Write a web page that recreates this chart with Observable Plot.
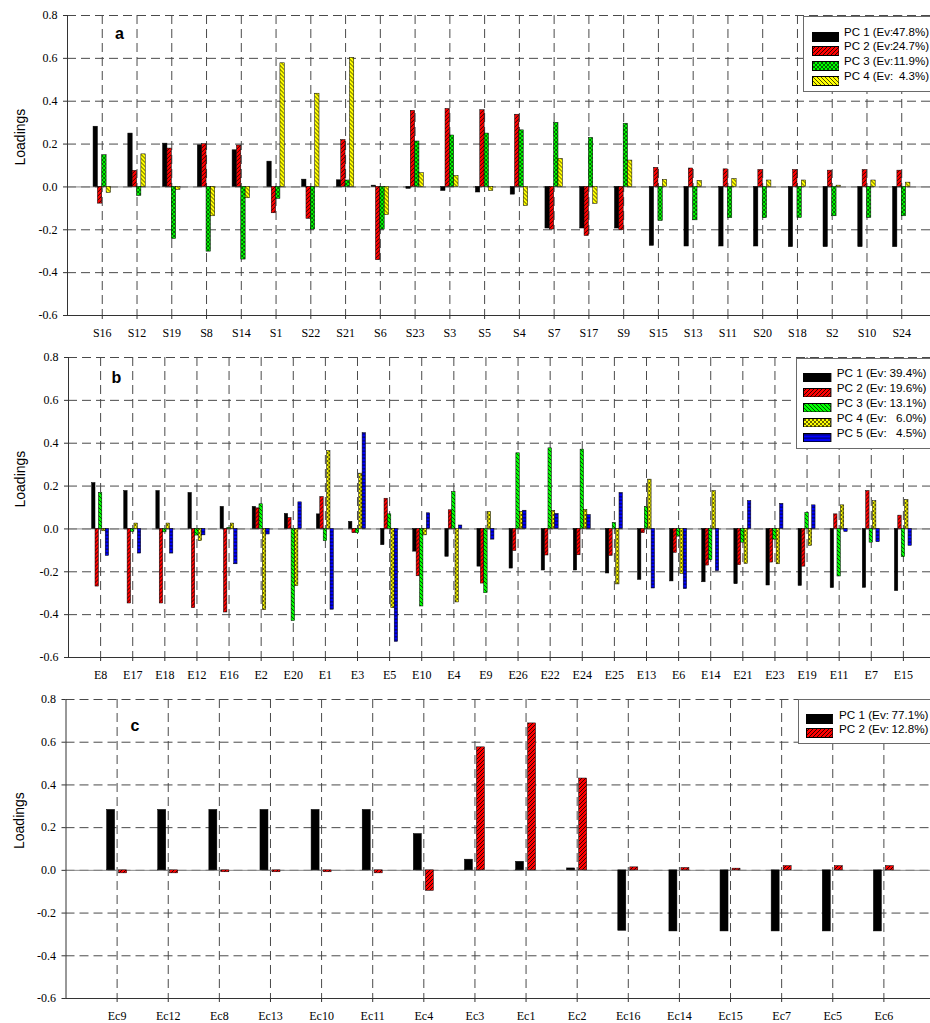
<!DOCTYPE html>
<html>
<head>
<meta charset="utf-8">
<script src="https://cdn.jsdelivr.net/npm/d3@7"></script>
<script src="https://cdn.jsdelivr.net/npm/@observablehq/plot@0.6"></script>
<style>
  html, body { margin: 0; padding: 0; background: #fff; }
  #root { position: relative; width: 930px; height: 1023px; overflow: hidden; }
  .panel { position: relative; width: 930px; height: 341px; overflow: hidden; }
  .panel svg.plot { display: block; }
  .lgbox { position: absolute; background: #fff; border: 1px solid #6a6a6a; box-sizing: border-box; }
  .lgtxt { position: absolute; font-family: "Liberation Sans", Arial, sans-serif; font-size: 11.7px; line-height: 13px; color: #000; white-space: pre; }
  .lgsw { position: absolute; }
</style>
</head>
<body>
<svg width="0" height="0" style="position:absolute">
  <defs>
    <pattern id="pRed" patternUnits="userSpaceOnUse" width="4" height="4">
      <rect width="4" height="4" fill="#ff0000"/>
      <path d="M-1,1 L1,-1 M0,4 L4,0 M3,5 L5,3" stroke="#000" stroke-width="0.8"/>
    </pattern>
    <pattern id="pGreenX" patternUnits="userSpaceOnUse" width="4" height="4">
      <rect width="4" height="4" fill="#00ff00"/>
      <path d="M-1,1 L1,-1 M0,4 L4,0 M3,5 L5,3 M-1,3 L1,5 M0,0 L4,4 M3,-1 L5,1" stroke="#000" stroke-width="0.6"/>
    </pattern>
    <pattern id="pYellowB" patternUnits="userSpaceOnUse" width="4" height="4">
      <rect width="4" height="4" fill="#ffff00"/>
      <path d="M-1,3 L1,5 M0,0 L4,4 M3,-1 L5,1" stroke="#000" stroke-width="0.7"/>
    </pattern>
    <pattern id="pGreenB" patternUnits="userSpaceOnUse" width="4" height="4">
      <rect width="4" height="4" fill="#00ff00"/>
      <path d="M-1,3 L1,5 M0,0 L4,4 M3,-1 L5,1" stroke="#000" stroke-width="0.7"/>
    </pattern>
    <pattern id="pYellowX" patternUnits="userSpaceOnUse" width="4" height="4">
      <rect width="4" height="4" fill="#ffff00"/>
      <path d="M-1,1 L1,-1 M0,4 L4,0 M3,5 L5,3 M-1,3 L1,5 M0,0 L4,4 M3,-1 L5,1" stroke="#000" stroke-width="0.6"/>
    </pattern>
    <pattern id="pBlueH" patternUnits="userSpaceOnUse" width="4" height="3.5">
      <rect width="4" height="3.5" fill="#0000ff"/>
      <path d="M0,1.75 L4,1.75" stroke="#000" stroke-width="0.8"/>
    </pattern>
  </defs>
</svg>
<div id="root">
  <div class="panel" id="pa"></div>
  <div class="panel" id="pb"></div>
  <div class="panel" id="pc"></div>
</div>
<script>
// ---------- data ----------
const yTicks = [-0.6, -0.4, -0.2, 0, 0.2, 0.4, 0.6, 0.8];

// Panel a
const aCats = ["S16","S12","S19","S8","S14","S1","S22","S21","S6","S23","S3","S5","S4","S7","S17","S9","S15","S13","S11","S20","S18","S2","S10","S24"];
const aPC1 = [0.281,0.249,0.202,0.194,0.171,0.118,0.034,0.031,0.006,-0.009,-0.019,-0.026,-0.036,-0.194,-0.194,-0.194,-0.275,-0.278,-0.278,-0.278,-0.281,-0.281,-0.281,-0.281];
const aPC2 = [-0.078,0.075,0.179,0.200,0.193,-0.123,-0.149,0.219,-0.342,0.355,0.364,0.358,0.337,-0.199,-0.229,-0.202,0.089,0.086,0.082,0.079,0.079,0.076,0.079,0.076];
const aPC3 = [0.148,-0.042,-0.243,-0.302,-0.339,-0.056,-0.199,0.030,-0.199,0.212,0.240,0.249,0.264,0.299,0.229,0.295,-0.159,-0.156,-0.146,-0.146,-0.145,-0.137,-0.145,-0.137];
const aPC4 = [-0.028,0.152,-0.014,-0.137,-0.053,0.577,0.435,0.602,-0.132,0.064,0.051,-0.019,-0.089,0.131,-0.079,0.123,0.033,0.028,0.037,0.030,0.030,0.006,0.030,0.020];
const aLegend = ["PC 1 (Ev:47.8%)", "PC 2 (Ev:24.7%)", "PC 3 (Ev:11.9%)", "PC 4 (Ev: 4.3%)"];

// Panel b
const bCats = ["E8","E17","E18","E12","E16","E2","E20","E1","E3","E5","E10","E4","E9","E26","E22","E24","E25","E13","E6","E14","E21","E23","E19","E11","E7","E15"];
const bPC1 = [0.214,0.177,0.177,0.168,0.103,0.103,0.070,0.068,0.033,-0.076,-0.106,-0.130,-0.176,-0.185,-0.194,-0.194,-0.208,-0.238,-0.245,-0.249,-0.258,-0.264,-0.266,-0.276,-0.275,-0.290];
const bPC2 = [-0.269,-0.348,-0.348,-0.370,-0.390,0.096,0.051,0.149,-0.020,0.141,-0.221,0.087,-0.255,-0.103,-0.124,-0.123,-0.126,-0.020,-0.112,-0.171,-0.169,-0.157,-0.176,0.068,0.177,0.062];
const bPC3 = [0.168,-0.014,-0.016,-0.031,0.005,0.115,-0.430,-0.057,-0.020,0.068,-0.362,0.172,-0.300,0.353,0.376,0.370,0.028,0.103,-0.036,-0.146,-0.064,-0.050,0.075,-0.222,-0.064,-0.132];
const bPC4 = [-0.011,0.025,0.025,-0.057,0.025,-0.379,-0.267,0.363,0.258,-0.370,-0.030,-0.343,0.079,0.079,0.084,0.089,-0.259,0.230,-0.210,0.176,-0.163,-0.165,-0.079,0.110,0.130,0.135];
const bPC5 = [-0.126,-0.115,-0.115,-0.030,-0.165,-0.026,0.124,-0.377,0.447,-0.527,0.073,0.016,-0.050,0.085,0.070,0.065,0.168,-0.278,-0.281,-0.197,0.130,0.117,0.110,-0.014,-0.062,-0.079];
const bLegend = ["PC 1 (Ev: 39.4%)", "PC 2 (Ev: 19.6%)", "PC 3 (Ev: 13.1%)", "PC 4 (Ev:   6.0%)", "PC 5 (Ev:   4.5%)"];

// Panel c
const cCats = ["Ec9","Ec12","Ec8","Ec13","Ec10","Ec11","Ec4","Ec3","Ec1","Ec2","Ec16","Ec14","Ec15","Ec7","Ec5","Ec6"];
const cPC1 = [0.283,0.283,0.283,0.283,0.283,0.283,0.170,0.050,0.040,0.009,-0.283,-0.286,-0.286,-0.286,-0.286,-0.286];
const cPC2 = [-0.014,-0.014,-0.009,-0.009,-0.009,-0.014,-0.096,0.576,0.688,0.430,0.014,0.011,0.008,0.020,0.020,0.020];
const cLegend = ["PC 1 (Ev: 77.1%)", "PC 2 (Ev: 12.8%)"];

// ---------- rendering ----------
const SANS = "'Liberation Sans', Arial, sans-serif";
const SERIF = "'Liberation Serif', 'Times New Roman', serif";

function makePanel(el, p) {
  const n = p.cats.length;
  const step = (p.range[1] - p.range[0]) / (n + 1);
  const pi = 1 - p.bw / step;
  const k = p.series.length;
  const marks = [
    Plot.gridY(yTicks, {stroke: "#4a4a4a", strokeOpacity: 1, strokeDasharray: "9,5"}),
    Plot.gridX(p.cats, {stroke: "#4a4a4a", strokeOpacity: 1, strokeDasharray: "9,5"}),
    Plot.ruleY([0], {stroke: "#8c8c8c", strokeWidth: 1})
  ];
  p.series.forEach((vals, i) => {
    const rows = vals.map((v, j) => ({cat: p.cats[j], v}));
    const dx = p.offsets ? p.offsets[i] : (i - (k - 1) / 2) * p.bw;
    marks.push(Plot.barY(rows, {x: "cat", y: "v", fill: p.fills[i], stroke: "#000", strokeWidth: 0.5, dx}));
  });
  marks.push(
    Plot.ruleY([-0.6], {stroke: "#333"}),
    Plot.frame({anchor: "left", stroke: "#333"}),
    Plot.axisY(yTicks, {tickSize: 4, tickPadding: 6, tickFormat: d => d.toFixed(1), fontSize: 12, label: null, stroke: "#333"}),
    Plot.axisX(p.cats, {tickSize: 4, tickPadding: 9, fontSize: 12, label: null, stroke: "#333"}),
    Plot.text(["Loadings"], {frameAnchor: "left", dx: p.labelDx, rotate: -90, fontSize: 14, fontFamily: SANS}),
    Plot.text([p.letter], {frameAnchor: "top-left", dx: p.letterDx, dy: p.letterDy, textAnchor: "middle", lineAnchor: "middle", fontSize: 16, fontWeight: "bold", fontFamily: SANS})
  );
  const chart = Plot.plot({
    width: 930,
    height: 341,
    marginLeft: p.range[0],
    marginRight: 0,
    marginTop: p.mt,
    marginBottom: p.mb,
    x: {type: "band", domain: p.cats, range: p.range, paddingInner: pi, paddingOuter: (1 + pi) / 2, align: 0.5, round: false},
    y: {domain: [-0.6, 0.8], ticks: yTicks},
    style: {fontFamily: SERIF, fontSize: "12px", color: "#000", background: "transparent", overflow: "hidden"},
    marks
  });
  el.appendChild(chart);

  // legend (inside the plot area, top right)
  const L = p.legend;
  const box = document.createElement("div");
  box.className = "lgbox";
  Object.assign(box.style, {left: L.left + "px", top: L.top + "px", width: L.w + "px", height: L.h + "px"});
  el.appendChild(box);
  p.labels.forEach((lab, i) => {
    const cy = L.y0 + i * L.dy;
    const sw = document.createElement("div");
    sw.className = "lgsw";
    Object.assign(sw.style, {left: L.swLeft + "px", top: (cy - L.swH / 2) + "px"});
    sw.innerHTML = `<svg width="${L.swW + 1}" height="${L.swH + 1}"><rect x="0.5" y="0.5" width="${L.swW}" height="${L.swH}" fill="${p.fills[i]}" stroke="#000" stroke-width="1"/></svg>`;
    el.appendChild(sw);
    const cut = lab.indexOf(":") + 1;
    const t1 = document.createElement("div");
    t1.className = "lgtxt";
    t1.textContent = lab.slice(0, cut);
    Object.assign(t1.style, {left: L.txtLeft + "px", top: (cy - 6.5) + "px", fontSize: L.fs + "px"});
    el.appendChild(t1);
    const t2 = document.createElement("div");
    t2.className = "lgtxt";
    t2.textContent = lab.slice(cut).trim();
    Object.assign(t2.style, {right: (930 - L.valRight) + "px", top: (cy - 6.5) + "px", fontSize: L.fs + "px"});
    el.appendChild(t2);
  });
}

makePanel(document.getElementById("pa"), {
  cats: aCats, series: [aPC1, aPC2, aPC3, aPC4], labels: aLegend,
  fills: ["#000", "url(#pRed)", "url(#pGreenX)", "url(#pYellowB)"],
  range: [67, 936], mt: 15, mb: 26, bw: 4.35,
  letter: "a", letterDx: 52, letterDy: 18, labelDx: -47,
  legend: {left: 802.5, top: 16, w: 140, h: 76, y0: 32, dy: 14.7, swLeft: 811.5, swW: 26.5, swH: 9, txtLeft: 844, valRight: 929, fs: 11.5}
});
makePanel(document.getElementById("pb"), {
  cats: bCats, series: [bPC1, bPC2, bPC3, bPC4, bPC5], labels: bLegend,
  fills: ["#000", "url(#pRed)", "url(#pGreenB)", "url(#pYellowX)", "url(#pBlueH)"],
  range: [68, 935], mt: 16, mb: 25, bw: 3.4,
  letter: "b", letterDx: 48, letterDy: 20, labelDx: -48,
  legend: {left: 795.5, top: 16.7, w: 140, h: 91, y0: 31.5, dy: 15, swLeft: 803.3, swW: 27.4, swH: 8.5, txtLeft: 836.7, valRight: 926.5, fs: 11.7}
});
makePanel(document.getElementById("pc"), {
  cats: cCats, series: [cPC1, cPC2], labels: cLegend,
  fills: ["#000", "url(#pRed)"],
  offsets: [-6, 6],
  range: [65.5, 934.5], mt: 17, mb: 25, bw: 8,
  letter: "c", letterDx: 69, letterDy: 26, labelDx: -46.5,
  legend: {left: 797.7, top: 17, w: 140, h: 45, y0: 32, dy: 14.3, swLeft: 806, swW: 26.3, swH: 9, txtLeft: 839, valRight: 928.5, fs: 11.7}
});
</script>
</body>
</html>
